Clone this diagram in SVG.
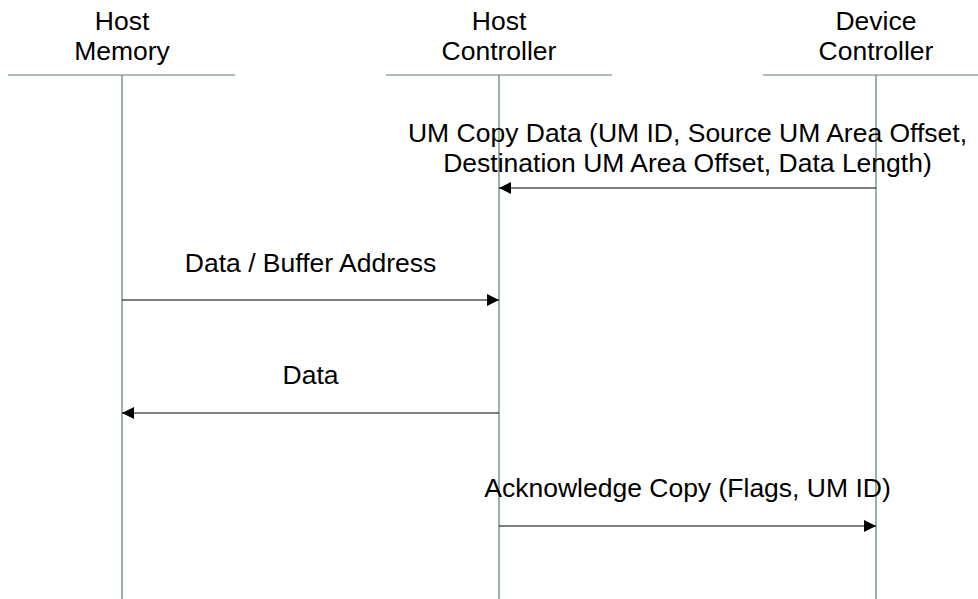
<svg xmlns="http://www.w3.org/2000/svg" width="978" height="599" viewBox="0 0 978 599">
  <style>
    .lbl { font-family: "Liberation Sans", Arial, sans-serif; font-size: 26.5px; fill: #000; text-anchor: middle; }
    .life { stroke: #5b7d6a; stroke-width: 1.2; fill: none; }
    .msg { stroke: #000; stroke-width: 1.2; fill: none; }
  </style>
  <defs>
    <marker id="arrow" viewBox="0 0 12 12" refX="12" refY="6" markerWidth="12" markerHeight="12" markerUnits="userSpaceOnUse" orient="auto">
      <path d="M0,0 L12,6 L0,12 Z" fill="#000"/>
    </marker>
  </defs>
  <rect width="978" height="599" fill="#fff"/>

  <!-- participants: header text, top rule and lifeline -->
  <g id="host-memory">
    <text class="lbl" x="122" y="30">Host</text>
    <text class="lbl" x="122" y="60">Memory</text>
    <line class="life" x1="8" y1="75" x2="235" y2="75"/>
    <line class="life" x1="122" y1="75" x2="122" y2="599"/>
  </g>
  <g id="host-controller">
    <text class="lbl" x="499" y="30">Host</text>
    <text class="lbl" x="499" y="60">Controller</text>
    <line class="life" x1="386" y1="75" x2="612" y2="75"/>
    <line class="life" x1="499" y1="75" x2="499" y2="599"/>
  </g>
  <g id="device-controller">
    <text class="lbl" x="876" y="30">Device</text>
    <text class="lbl" x="876" y="60">Controller</text>
    <line class="life" x1="763" y1="75" x2="989" y2="75"/>
    <line class="life" x1="876" y1="75" x2="876" y2="599"/>
  </g>

  <!-- messages -->
  <g id="messages">
    <line class="msg" x1="876" y1="188" x2="499" y2="188" marker-end="url(#arrow)"/>
    <line class="msg" x1="122" y1="300" x2="499" y2="300" marker-end="url(#arrow)"/>
    <line class="msg" x1="499" y1="413" x2="122" y2="413" marker-end="url(#arrow)"/>
    <line class="msg" x1="499" y1="526" x2="876" y2="526" marker-end="url(#arrow)"/>
  </g>

  <g id="message-labels">
    <text class="lbl" x="687.5" y="142">UM Copy Data (UM ID, Source UM Area Offset,</text>
    <text class="lbl" x="687.5" y="172">Destination UM Area Offset, Data Length)</text>
    <text class="lbl" x="310.5" y="272">Data / Buffer Address</text>
    <text class="lbl" x="310.5" y="384">Data</text>
    <text class="lbl" x="687.5" y="497">Acknowledge Copy (Flags, UM ID)</text>
  </g>
</svg>
